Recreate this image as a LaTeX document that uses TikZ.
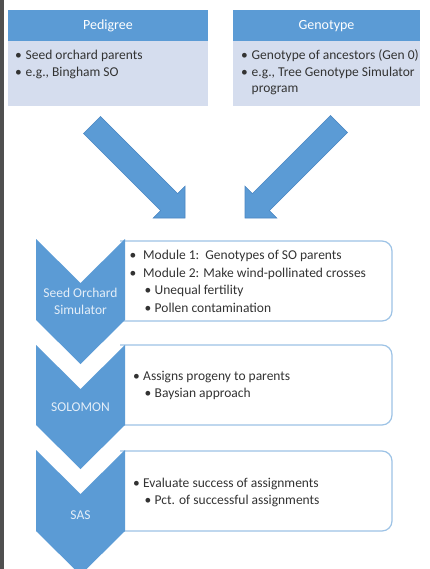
\documentclass[tikz,border=0pt]{standalone}
\usepackage{fontspec}
\setmainfont{Carlito}
\definecolor{hblue}{HTML}{5B9BD5}
\definecolor{hblueline}{HTML}{4A86C2}
\definecolor{lblue}{HTML}{D5DDEE}
\definecolor{boxline}{HTML}{9DC3E6}
\definecolor{edgegray}{HTML}{505050}
\definecolor{txt}{HTML}{333333}
\definecolor{chevtxt}{HTML}{E4EEF8}
\begin{document}
\begin{tikzpicture}[x=1pt,y=-1pt,
  body/.style={anchor=base west,inner sep=0pt,text=txt,font=\fontsize{13.5}{16}\selectfont},
  hdr/.style={inner sep=0pt,text=white,font=\fontsize{14}{16}\selectfont},
  chevlabel/.style={inner sep=0pt,text=chevtxt,font=\fontsize{13.5}{16}\selectfont,align=center},
  chev/.style={fill=hblue},
  rbox/.style={draw=boxline,line width=1.2pt,fill=white,rounded corners=10pt},
  blockarrow/.style={fill=hblue,draw=hblueline,line width=0.6pt,line join=miter}
]
\useasboundingbox (0,0) rectangle (429,569);
\clip (0,0) rectangle (429,569);
\fill[white] (0,0) rectangle (429,569);
\fill[edgegray] (0,0) rectangle (3.5,569);

% top boxes
\fill[hblue] (8,10) rectangle (208,41);
\fill[lblue] (8,41) rectangle (208,106);
\fill[hblue] (233,10) rectangle (420,41);
\fill[lblue] (233,41) rectangle (420,106);
\node[hdr] (pedh) at (108,26) {Pedigree};
\node[hdr] (genh) at (326.5,26) {Genotype};
\node[body] (p1) at (15,59.5) {\makebox[10.5pt][l]{\textbullet}Seed orchard parents};
\node[body] (p2) at (15,76.5) {\makebox[10.5pt][l]{\textbullet}e.g., Bingham SO};
\node[body] (g1) at (241,59.5) {\makebox[10.5pt][l]{\textbullet}Genotype of ancestors (Gen 0)};
\node[body] (g2) at (241,76.5) {\makebox[10.5pt][l]{\textbullet}e.g., Tree Genotype Simulator};
\node[body] (g3) at (251.5,93) {program};

% block arrows
\filldraw[blockarrow] (100.5,116.5) -- (177.6,193.6) -- (185,186.2) -- (185,218)
  -- (153.2,218) -- (160.6,210.6) -- (83.5,133.5) -- cycle;
\filldraw[blockarrow] (330.5,115.5) -- (252.4,193.6) -- (245,186.2) -- (245,218)
  -- (276.8,218) -- (269.4,210.6) -- (347.5,132.5) -- cycle;

% rounded boxes
\draw[rbox] (120,241) -- (392,241) -- (392,321) -- (120,321);
\draw[rbox] (120,345) -- (392,345) -- (392,425) -- (120,425);
\draw[rbox] (120,451) -- (392,451) -- (392,531) -- (120,531);

% chevrons
\fill[chev] (36,239) -- (80.5,283) -- (125,239) -- (125,320) -- (80.5,364) -- (36,320) -- cycle;
\fill[chev] (36,345) -- (80.5,389) -- (125,345) -- (125,425) -- (80.5,469) -- (36,425) -- cycle;
\fill[chev] (36,450) -- (80.5,494) -- (125,450) -- (125,531) -- (80.5,575) -- (36,531) -- cycle;

\node[chevlabel] (c1a) at (80.5,293) {Seed Orchard};
\node[chevlabel] (c1b) at (80.5,309.5) {Simulator};
\node[chevlabel] (c2) at (80.5,407) {SOLOMON};
\node[chevlabel] (c3) at (80.5,515) {SAS};

% box texts
\node[body] (m1) at (129.5,259.5) {\makebox[13.5pt][l]{\textbullet}Module 1:\ \ Genotypes of SO parents};
\node[body] (m2) at (129.5,277) {\makebox[13.5pt][l]{\textbullet}Module 2: Make wind-pollinated crosses};
\node[body] (m3) at (144.5,294.5) {\makebox[10pt][l]{\textbullet}Unequal fertility};
\node[body] (m4) at (144.5,312.5) {\makebox[10pt][l]{\textbullet}Pollen contamination};

\node[body] (s1) at (133,380.5) {\makebox[10pt][l]{\textbullet}Assigns progeny to parents};
\node[body] (s2) at (144.5,397.5) {\makebox[10pt][l]{\textbullet}Baysian approach};

\node[body] (a1) at (133,487.5) {\makebox[10pt][l]{\textbullet}Evaluate success of assignments};
\node[body] (a2) at (144.5,504.5) {\makebox[10pt][l]{\textbullet}Pct. of successful assignments};
\end{tikzpicture}
\end{document}
